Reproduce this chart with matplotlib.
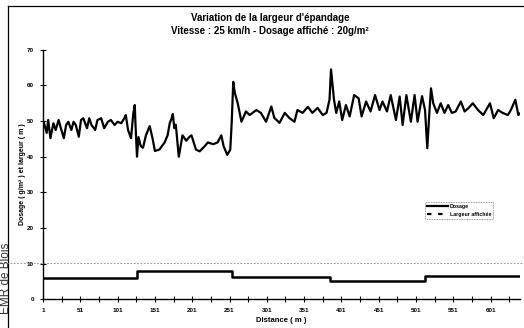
import numpy as np
import matplotlib
matplotlib.use("Agg")
import matplotlib.pyplot as plt
from matplotlib.lines import Line2D

plt.rcParams['font.family'] = ['Liberation Sans', 'DejaVu Sans']

# ---- données ----
distance = [1, 2, 6, 8, 11, 15, 18, 22, 25, 29, 32, 35, 39, 42, 45, 49, 52, 55, 60, 63,
            66, 71, 74, 79, 83, 88, 92, 97, 101, 106, 110, 112, 115, 119, 122, 124, 125,
            127, 129, 132, 135, 139, 144, 148, 151, 157, 164, 168, 171, 173, 175, 177,
            179, 183, 188, 193, 197, 200, 206, 211, 218, 222, 229, 235, 240, 243, 248,
            252, 254, 256, 258, 262, 267, 273, 278, 287, 293, 300, 307, 311, 318, 325,
            331, 338, 342, 349, 356, 362, 369, 376, 381, 385, 387, 391, 394, 398, 402,
            407, 412, 418, 424, 428, 434, 440, 446, 452, 456, 462, 467, 474, 479, 483,
            488, 494, 499, 503, 509, 513, 516, 519, 521, 524, 529, 534, 539, 544, 549,
            554, 561, 566, 571, 577, 584, 591, 600, 605, 611, 617, 624, 628, 634, 638, 641]
dosage = [48.5, 49.8, 46.7, 50.3, 45.2, 49.4, 47.5, 50.3, 48.0, 45.2, 48.9, 49.8, 47.5,
          49.8, 48.9, 45.6, 50.3, 50.8, 48.0, 50.8, 48.9, 47.5, 50.3, 50.8, 48.0, 49.8,
          50.3, 48.9, 49.8, 49.4, 50.8, 51.7, 47.5, 45.2, 52.0, 54.5, 49.0, 40.0, 45.5,
          43.0, 42.5, 46.0, 48.6, 45.0, 41.6, 42.0, 44.0, 46.0, 49.5, 50.5, 52.0, 48.0,
          49.0, 40.0, 46.0, 44.5, 45.5, 46.0, 42.0, 41.5, 43.0, 44.0, 43.5, 44.0, 46.0,
          43.0, 40.5, 42.0, 50.0, 61.0, 58.0, 55.0, 49.8, 52.7, 51.7, 53.1, 52.3, 49.8,
          54.1, 50.9, 49.5, 52.3, 50.9, 49.8, 53.1, 52.3, 54.0, 52.3, 53.7, 51.7, 52.3,
          56.0, 64.5, 56.0, 52.3, 55.5, 50.3, 54.5, 51.3, 57.3, 56.4, 51.3, 55.5, 52.7,
          57.3, 53.1, 55.5, 52.7, 57.3, 50.3, 56.9, 48.9, 57.3, 49.8, 57.3, 49.8, 57.0,
          53.1, 42.4, 53.1, 59.2, 55.0, 52.3, 55.0, 52.3, 54.5, 52.3, 52.7, 55.5, 52.7,
          53.6, 55.0, 53.1, 51.7, 55.0, 50.8, 53.1, 52.3, 51.7, 53.1, 56.0, 51.7, 52.3]

palier_debut = [1, 127, 254, 386, 513, 641]
largeur = [6.0, 7.9, 6.2, 5.2, 6.5, 6.5]

tick_pos = list(range(1, 640, 25))
tick_lab = [str(v) if (v - 1) % 50 == 0 else "" for v in tick_pos]

# ---- figure ----
fig = plt.figure(figsize=(5.24, 3.28), dpi=100)
ax = fig.add_axes([0.082, 0.088, 0.910, 0.760])

ax.plot(distance, dosage, color='black', lw=1.6, solid_joinstyle='round')
ax.plot(palier_debut, largeur, color='black', lw=1.8, drawstyle='steps-post')

ax.set_xlim(1, 640)
ax.set_ylim(0, 70)
ax.set_yticks(range(0, 71, 10))
ax.set_xticks(tick_pos)
ax.set_xticklabels(tick_lab)

for s in ['top', 'right']:
    ax.spines[s].set_visible(False)
for s in ['left', 'bottom']:
    ax.spines[s].set_linewidth(1.0)

ax.tick_params(direction='inout', length=5, width=0.8, labelsize=4.5, pad=4)
for lab in ax.get_xticklabels() + ax.get_yticklabels():
    lab.set_fontweight('bold')

ax.set_xlabel("Distance ( m )", fontsize=5.5, fontweight='bold', labelpad=3)
ax.set_ylabel("Dosage ( g/m² ) et largeur ( m )", fontsize=5, fontweight='bold', labelpad=1)

fig.text(0.515, 0.96, "Variation de la largeur d'épandage\nVitesse : 25 km/h - Dosage affiché : 20g/m²",
         ha='center', va='top', fontsize=7, fontweight='bold', linespacing=1.4)

# légende
handles = [Line2D([], [], color='black', lw=1.6),
           Line2D([], [], color='black', lw=1.6, ls=(0, (2, 3)))]
leg = ax.legend(handles, ["Dosage", "Largeur affichée"], loc='lower left',
                bbox_to_anchor=(0.795, 0.31), frameon=True,
                fancybox=False, handlelength=4, borderpad=0.4, labelspacing=0.6,
                handletextpad=0.3, prop={'weight': 'bold', 'size': 3.8})
leg.get_frame().set_edgecolor('#555555')
leg.get_frame().set_linewidth(0.6)
leg.get_frame().set_linestyle((0, (1, 1)))

# cadre et traces du scan
fig.add_artist(Line2D([8/524, 1], [1 - 6/328, 1 - 6/328], color='black', lw=0.9))
fig.add_artist(Line2D([8/524, 8/524], [0, 1 - 6/328], color='black', lw=0.9))
fig.add_artist(Line2D([0, 1], [1 - 263/328, 1 - 263/328], color='#888888', lw=0.6, ls=(0, (2, 2))))
fig.text(6/524, 1 - 243/328, "EMR de Blois", rotation=90, ha='center', va='top',
         fontsize=8.5, color='#333333')

fig.savefig("out.png", dpi=100)
